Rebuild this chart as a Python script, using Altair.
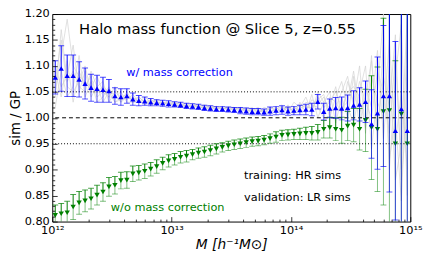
import altair as alt
import pandas as pd

# ---------------- data ----------------
log_mass = [12.025, 12.075, 12.125, 12.175, 12.225, 12.275, 12.325, 12.375, 12.425, 12.475,
            12.525, 12.575, 12.625, 12.675, 12.725, 12.775, 12.825, 12.875, 12.925, 12.975,
            13.025, 13.075, 13.125, 13.175, 13.225, 13.275, 13.325, 13.375, 13.425, 13.475,
            13.525, 13.575, 13.625, 13.675, 13.725, 13.775, 13.825, 13.875, 13.925, 13.975,
            14.025, 14.075, 14.125, 14.175, 14.225, 14.275, 14.325, 14.375, 14.425, 14.475,
            14.525, 14.575, 14.625, 14.675, 14.725, 14.775, 14.825, 14.875, 14.925, 14.975]

blue_ratio = [1.078, 1.095, 1.081, 1.081, 1.074, 1.066, 1.058, 1.056, 1.054, 1.052,
              1.042, 1.040, 1.042, 1.036, 1.033, 1.032, 1.030, 1.029, 1.028, 1.027,
              1.026, 1.025, 1.023, 1.022, 1.021, 1.019, 1.018, 1.017, 1.017, 1.016,
              1.015, 1.014, 1.013, 1.012, 1.012, 1.011, 1.013, 1.014, 1.015, 1.013,
              1.014, 1.015, 1.016, 1.016, 1.031, 1.012, 1.018, 1.019, 1.018, 1.019,
              1.024, 1.026, 1.031, 0.988, 1.009, 1.042, 1.042, 0.975, 1.017, 0.975]
blue_err = [0.032, 0.044, 0.040, 0.040, 0.034, 0.030, 0.026, 0.026, 0.024, 0.022,
            0.016, 0.016, 0.014, 0.012, 0.010, 0.008, 0.007, 0.006, 0.006, 0.006,
            0.005, 0.005, 0.005, 0.005, 0.005, 0.005, 0.005, 0.005, 0.005, 0.005,
            0.005, 0.006, 0.006, 0.006, 0.006, 0.006, 0.008, 0.008, 0.008, 0.008,
            0.008, 0.009, 0.010, 0.012, 0.014, 0.016, 0.018, 0.020, 0.022, 0.025,
            0.028, 0.032, 0.040, 0.066, 0.108, 0.136, 0.185, 0.172, 0.250, 0.300]

green_ratio = [0.812, 0.815, 0.817, 0.828, 0.836, 0.840, 0.844, 0.851, 0.857, 0.867,
               0.870, 0.879, 0.880, 0.892, 0.894, 0.897, 0.901, 0.906, 0.912, 0.917,
               0.920, 0.924, 0.926, 0.929, 0.932, 0.934, 0.937, 0.940, 0.943, 0.946,
               0.948, 0.950, 0.952, 0.954, 0.955, 0.957, 0.960, 0.963, 0.966, 0.967,
               0.968, 0.969, 0.970, 0.970, 0.972, 0.978, 0.981, 0.978, 0.976, 0.984,
               0.986, 0.978, 0.995, 0.981, 0.978, 1.012, 1.014, 0.950, 1.007, 0.950]
green_err = [0.020, 0.020, 0.022, 0.024, 0.022, 0.021, 0.020, 0.019, 0.018, 0.018,
             0.017, 0.016, 0.016, 0.015, 0.014, 0.014, 0.013, 0.013, 0.012, 0.012,
             0.011, 0.011, 0.011, 0.010, 0.010, 0.010, 0.010, 0.010, 0.009, 0.009,
             0.009, 0.009, 0.009, 0.009, 0.009, 0.009, 0.009, 0.010, 0.010, 0.010,
             0.010, 0.011, 0.012, 0.013, 0.015, 0.017, 0.020, 0.022, 0.025, 0.028,
             0.032, 0.040, 0.060, 0.100, 0.120, 0.180, 0.250, 0.160, 0.300, 0.300]

gray_sims = {
    "s1": [1.05, 1.12, 1.19, 1.10, 1.08, 1.07, 1.06, 1.08, 1.05, 1.04,
           1.04, 1.05, 1.03, 1.03, 1.04, 1.03, 1.035, 1.03, 1.03, 1.025,
           1.03, 1.025, 1.02, 1.025, 1.02, 1.02, 1.015, 1.02, 1.018, 1.02,
           1.015, 1.02, 1.012, 1.015, 1.02, 1.01, 1.02, 1.015, 1.025, 1.01,
           1.03, 1.02, 1.04, 1.01, 1.05, 1.03, 1.02, 1.06, 1.00, 1.07,
           1.03, 1.10, 0.97, 1.12, 0.95, 1.15, 0.90, 1.08, 1.18, 0.85],
    "s2": [1.10, 1.06, 1.08, 1.14, 1.05, 1.09, 1.04, 1.06, 1.07, 1.03,
           1.05, 1.04, 1.045, 1.03, 1.03, 1.035, 1.025, 1.03, 1.025, 1.03,
           1.022, 1.025, 1.028, 1.02, 1.022, 1.018, 1.02, 1.016, 1.02, 1.014,
           1.018, 1.012, 1.016, 1.01, 1.012, 1.015, 1.008, 1.02, 1.01, 1.025,
           1.005, 1.03, 1.01, 1.045, 1.00, 1.03, 1.05, 0.99, 1.04, 1.00,
           1.08, 0.98, 1.06, 1.02, 1.13, 0.96, 1.10, 0.88, 0.95, 1.20],
    "s3": [1.02, 1.09, 1.04, 1.06, 1.12, 1.04, 1.07, 1.03, 1.04, 1.06,
           1.03, 1.035, 1.04, 1.04, 1.03, 1.03, 1.03, 1.025, 1.03, 1.028,
           1.025, 1.03, 1.02, 1.025, 1.022, 1.025, 1.02, 1.022, 1.018, 1.02,
           1.02, 1.016, 1.02, 1.015, 1.012, 1.02, 1.015, 1.012, 1.02, 1.018,
           1.015, 1.025, 1.02, 1.02, 1.035, 1.045, 1.00, 1.04, 1.07, 1.02,
           0.99, 1.05, 1.10, 0.94, 1.05, 1.20, 0.92, 1.00, 0.84, 1.10],
    "s4": [1.07, 1.15, 1.06, 1.05, 1.07, 1.10, 1.05, 1.05, 1.06, 1.05,
           1.03, 1.04, 1.035, 1.045, 1.03, 1.04, 1.03, 1.032, 1.026, 1.03,
           1.03, 1.02, 1.026, 1.028, 1.02, 1.02, 1.024, 1.016, 1.022, 1.018,
           1.016, 1.02, 1.014, 1.018, 1.015, 1.01, 1.018, 1.02, 1.01, 1.02,
           1.022, 1.01, 1.03, 1.025, 1.02, 1.00, 1.04, 1.03, 1.01, 1.05,
           1.06, 1.04, 0.98, 1.08, 1.03, 1.00, 1.15, 0.95, 1.05, 0.90],
    "s5": [1.09, 1.04, 1.11, 1.03, 1.09, 1.06, 1.08, 1.04, 1.05, 1.04,
           1.06, 1.03, 1.04, 1.035, 1.04, 1.03, 1.028, 1.035, 1.03, 1.024,
           1.028, 1.028, 1.022, 1.022, 1.026, 1.02, 1.018, 1.022, 1.016, 1.02,
           1.02, 1.015, 1.016, 1.02, 1.01, 1.015, 1.02, 1.012, 1.015, 1.022,
           1.012, 1.018, 1.025, 1.015, 1.04, 1.02, 1.03, 1.05, 1.02, 1.03,
           1.09, 1.01, 1.04, 1.11, 0.98, 1.08, 1.02, 1.16, 0.88, 1.02],
    "s6": [1.04, 1.17, 1.07, 1.09, 1.06, 1.05, 1.09, 1.06, 1.03, 1.05,
           1.045, 1.03, 1.05, 1.03, 1.035, 1.025, 1.035, 1.028, 1.03, 1.03,
           1.024, 1.024, 1.025, 1.02, 1.024, 1.022, 1.02, 1.02, 1.02, 1.016,
           1.018, 1.018, 1.012, 1.016, 1.018, 1.012, 1.01, 1.018, 1.02, 1.012,
           1.02, 1.015, 1.01, 1.035, 1.025, 1.04, 1.01, 1.02, 1.05, 1.08,
           1.02, 1.07, 1.03, 1.00, 1.09, 1.05, 0.97, 1.12, 0.90, 1.15],
}

ref_dotted = [0.95, 1.05]
ref_dashed = [1.00]
y_major = [0.80, 0.85, 0.90, 0.95, 1.00, 1.05, 1.10, 1.15, 1.20]
x_major = [1e12, 1e13, 1e14, 1e15]

for arr in [blue_ratio, blue_err, green_ratio, green_err] + list(gray_sims.values()):
    assert len(arr) == len(log_mass), len(arr)

# ---------------- tables ----------------
M = [10 ** v for v in log_mass]
df_b = pd.DataFrame({"M": M, "r": blue_ratio, "e": blue_err})
df_b["hi"] = df_b["r"] + df_b["e"]
df_b["lo"] = df_b["r"] - df_b["e"]
df_g = pd.DataFrame({"M": M, "r": green_ratio, "e": green_err})
df_g["hi"] = df_g["r"] + df_g["e"]
df_g["lo"] = df_g["r"] - df_g["e"]
rows = []
for name, vals in gray_sims.items():
    for m, v in zip(M, vals):
        rows.append({"M": m, "r": v, "sim": name})
df_gray = pd.DataFrame(rows)

W, H = 364, 211
FONT = "DejaVu Sans"
BLUE = "#0000ff"
GREEN = "#008000"

xs = alt.Scale(type="log", domain=[1e12, 1e15])
ys = alt.Scale(domain=[0.8, 1.2], zero=False)

x_tick_vals = [m * 10 ** d for d in (12, 13, 14) for m in range(1, 10)] + [1e15]
y_tick_vals = [round(0.80 + 0.01 * k, 2) for k in range(41)]

x_tick_axis = alt.Axis(
    orient="top", offset=-H, labels=False, domain=False, grid=False, title=None,
    values=x_tick_vals, tickColor="black", tickWidth=0.8, zindex=1,
    tickSize={"condition": {"test": "abs(log(datum.value)/LN10 - round(log(datum.value)/LN10)) < 0.001", "value": 5}, "value": 2.5},
)
y_tick_axis = alt.Axis(
    orient="right", offset=-W, labels=False, domain=False, grid=False, title=None,
    values=y_tick_vals, tickColor="black", tickWidth=0.8, zindex=1,
    tickSize={"condition": {"test": "abs(datum.value*20 - round(datum.value*20)) < 0.01", "value": 5}, "value": 2.5},
)
x_label_axis = alt.Axis(
    orient="bottom", values=x_major, ticks=False, domain=False, grid=False,
    labelExpr="datum.value < 5e12 ? '10¹²' : datum.value < 5e13 ? '10¹³' : datum.value < 5e14 ? '10¹⁴' : '10¹⁵'",
    labelFontSize=11.5, labelPadding=3, labelFlush=False, labelOverlap=False,
    title="M [h⁻¹M⊙]", titleFontSize=14, titleFontWeight="normal", titleFontStyle="italic", titlePadding=2,
)
y_label_axis = alt.Axis(
    orient="left", values=y_major, ticks=False, domain=False, grid=False, format=".2f",
    labelFontSize=11.5, labelPadding=3, labelFlush=False, labelOverlap=False,
    title="sim / GP", titleFontSize=13.5, titleFontWeight="normal", titlePadding=2,
)

gray = alt.Chart(df_gray).mark_line(color="#cfcfcf", strokeWidth=1, opacity=0.65, clip=True).encode(
    x=alt.X("M:Q", scale=xs, axis=x_tick_axis),
    y=alt.Y("r:Q", scale=ys, axis=None),
    detail="sim:N",
)

dotted = alt.Chart(pd.DataFrame({"y": ref_dotted})).mark_rule(color="black", strokeDash=[1, 2], strokeWidth=1).encode(
    y=alt.Y("y:Q", scale=ys, axis=y_tick_axis)
)
dashed = alt.Chart(pd.DataFrame({"y": ref_dashed})).mark_rule(color="black", strokeDash=[4, 3], strokeWidth=1).encode(
    y=alt.Y("y:Q", scale=ys, axis=None)
)


def errbars(df, color, shape, light_opacity, labelled=False):
    base = alt.Chart(df)
    xenc = alt.X("M:Q", scale=xs, axis=None)
    lower = base.mark_rule(color=color, opacity=light_opacity, strokeWidth=1, clip=True).encode(
        x=xenc, y=alt.Y("lo:Q", scale=ys, axis=None), y2="r:Q")
    lcap = base.mark_tick(color=color, opacity=light_opacity, orient="horizontal", size=6, thickness=1, clip=True).encode(
        x=xenc, y=alt.Y("lo:Q", scale=ys, axis=None))
    upper = base.mark_rule(color=color, strokeWidth=1, clip=True).encode(
        x=xenc, y=alt.Y("r:Q", scale=ys, axis=None), y2="hi:Q")
    ucap = base.mark_tick(color=color, orient="horizontal", size=6, thickness=1, clip=True).encode(
        x=xenc, y=alt.Y("hi:Q", scale=ys, axis=None))
    if labelled:
        pts = base.mark_point(shape=shape, filled=True, size=30, color=color, opacity=1, clip=True).encode(
            x=alt.X("M:Q", scale=xs, axis=x_label_axis), y=alt.Y("r:Q", scale=ys, axis=y_label_axis))
    else:
        pts = base.mark_point(shape=shape, filled=True, size=30, color=color, opacity=1, clip=True).encode(
            x=xenc, y=alt.Y("r:Q", scale=ys, axis=None))
    return [lower, lcap, upper, ucap, pts]


green_layers = errbars(df_g, GREEN, "triangle-down", 0.5)
blue_layers = errbars(df_b, BLUE, "triangle-up", 0.65, labelled=True)


def label(text, logm, yv, color, size, align):
    return alt.Chart(pd.DataFrame({"M": [10 ** logm], "y": [yv], "t": [text]})).mark_text(
        color=color, fontSize=size, font=FONT, align=align, baseline="middle"
    ).encode(
        x=alt.X("M:Q", scale=xs, axis=None),
        y=alt.Y("y:Q", scale=ys, axis=None),
        text="t:N",
    )


texts = [
    label("Halo mass function @ Slice 5, z=0.55", 13.385, 1.171, "black", 15, "center"),
    label("w/ mass correction", 13.066, 1.087, BLUE, 11.5, "center"),
    label("w/o mass correction", 12.967, 0.827, GREEN, 11.5, "center"),
    label("training: HR sims", 13.607, 0.887, "black", 11.5, "left"),
    label("validation: LR sims", 13.607, 0.846, "black", 11.5, "left"),
]

chart = alt.layer(
    gray, dotted, dashed, *green_layers, *blue_layers, *texts
).resolve_axis(
    x="independent", y="independent"
).properties(
    width=W, height=H,
    autosize=alt.AutoSizeParams(type="none"),
    padding={"left": 45, "top": 4, "right": 18, "bottom": 40},
).configure_view(
    stroke="black", strokeWidth=1
).configure_axis(
    labelFont=FONT, titleFont=FONT, labelColor="black", titleColor="black"
)

chart.save("out.html", embed_options={"renderer": "svg", "actions": False})
